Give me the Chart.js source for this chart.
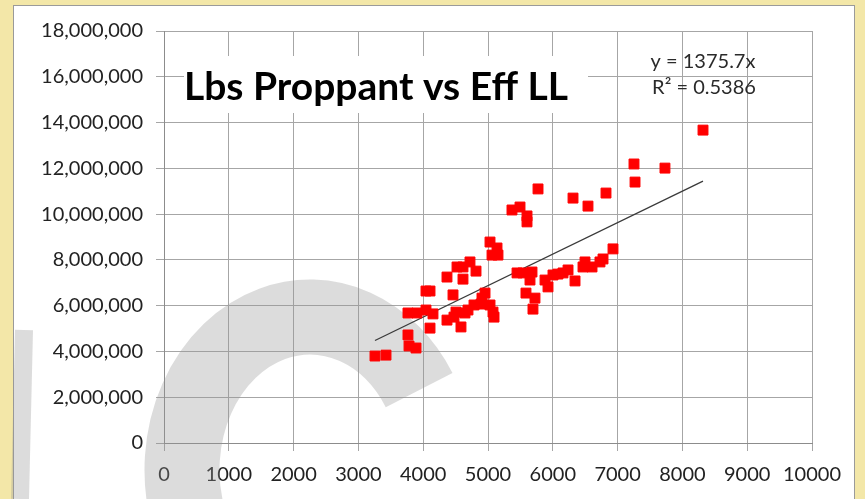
<!DOCTYPE html>
<html>
<head>
<meta charset="utf-8">
<title>Lbs Proppant vs Eff LL</title>
<script src="https://cdn.jsdelivr.net/npm/chart.js@4.4.0/dist/chart.umd.min.js"></script>
<style>
  html, body { margin: 0; padding: 0; background: #f3e7a8; }
  #wrap { width: 865px; height: 499px; position: relative; }
</style>
</head>
<body>
<div id="wrap"><canvas id="myChart" width="865" height="499"></canvas></div>
<script>
// data
const effLL = [3256, 3426, 3765, 3781, 3889, 3765, 3904, 4043, 4151, 4043, 4105, 4105,
  4367, 4522, 4614, 4722, 4815, 4614, 4460, 4367, 4475, 4583, 4506, 4645, 4691, 4784,
  4892, 4954, 4907, 5031, 5077, 5093, 5031, 5139, 5062, 5154, 5448, 5540, 5679, 5648,
  5586, 5725, 5694, 5880, 5926, 6003, 6080, 6157, 6235, 6343, 6466, 6497, 6605, 6728,
  6775, 6929, 5370, 5494, 5602, 5602, 5772, 6312, 6543, 6821, 7253, 7269, 7731, 8318];
const lbsProppant = [3800000, 3840000, 4720000, 4240000, 4150000, 5680000, 5680000, 5810000,
  5640000, 6640000, 5020000, 6640000, 7250000, 7690000, 7690000, 7910000, 7510000, 7160000,
  6470000, 5370000, 5500000, 5070000, 5720000, 5680000, 5810000, 6030000, 6070000, 6550000,
  6330000, 6030000, 5720000, 5500000, 8780000, 8520000, 8210000, 8210000, 7430000, 7430000,
  7470000, 7120000, 6550000, 6330000, 5850000, 7120000, 6820000, 7340000, 7380000, 7430000,
  7560000, 7080000, 7690000, 7910000, 7690000, 7910000, 8040000, 8480000, 10180000, 10310000,
  9920000, 9660000, 11100000, 10700000, 10350000, 10920000, 12190000, 11400000, 12010000, 13670000];
const slope = 1375.7;
const equationText = ["y = 1375.7x", "R\u00b2 = 0.5386"];
const titleText = "Lbs Proppant vs Eff LL";
const xTicks = [0, 1000, 2000, 3000, 4000, 5000, 6000, 7000, 8000, 9000, 10000];
const yTicks = [0, 2000000, 4000000, 6000000, 8000000, 10000000, 12000000, 14000000, 16000000, 18000000];

const points = effLL.map((x, i) => ({ x: x, y: lbsProppant[i] }));
const xMin = Math.min(...effLL), xMax = Math.max(...effLL);
const trend = [{ x: xMin, y: slope * xMin }, { x: xMax, y: slope * xMax }];

// yellow frame, white chart box
const background = {
  id: 'background',
  beforeDraw(chart) {
    const c = chart.ctx;
    c.save();
    c.fillStyle = '#f3e7a8';
    c.fillRect(0, 0, chart.width, chart.height);
    c.fillStyle = '#ffffff';
    c.fillRect(13, 5, 842, 494);
    c.strokeStyle = '#9a9a9a';
    c.lineWidth = 1;
    c.strokeRect(13.5, 5.5, 841, 500);
    c.restore();
  }
};

// title box + grey watermark arc
const overlay = {
  id: 'overlay',
  beforeDatasetsDraw(chart) {
    const c = chart.ctx;
    c.save();
    c.fillStyle = '#ffffff';
    c.fillRect(184, 56, 404, 57);
    c.fillStyle = '#000000';
    c.font = 'bold 39px Lato';
    c.textAlign = 'center';
    c.textBaseline = 'middle';
    c.fillText(titleText, 376, 87);

    c.fillStyle = '#2a2a2a';
    c.font = '20px Lato';
    c.fillText(equationText[0], 703, 62);
    c.fillText(equationText[1], 704, 88);

    // watermark
    c.strokeStyle = 'rgba(150,150,150,0.33)';
    c.lineWidth = 75;
    c.beginPath();
    c.ellipse(310, 470, 128, 153, 0, Math.PI - 0.3, Math.PI * 2 - 0.55);
    c.stroke();
    c.lineWidth = 18;
    c.beginPath();
    c.moveTo(24, 330);
    c.lineTo(20, 499);
    c.stroke();
    c.restore();
  }
};

const ctx = document.getElementById('myChart');

new Chart(ctx, {
  type: 'scatter',
  data: {
    datasets: [{
      label: 'Lbs Proppant',
      data: points,
      backgroundColor: '#ff0000',
      borderColor: '#ff0000',
      pointStyle: 'rect',
      pointRadius: 7,
      pointHoverRadius: 7,
      order: 1
    }, {
      label: 'Trend',
      type: 'line',
      data: trend,
      borderColor: '#3a3a3a',
      borderWidth: 1.3,
      pointRadius: 0,
      fill: false,
      order: 2
    }]
  },
  options: {
    responsive: false,
    animation: false,
    layout: { padding: { left: 13, right: 53, top: 31, bottom: 16 } },
    plugins: {
      legend: { display: false },
      tooltip: { enabled: false }
    },
    scales: {
      x: {
        type: 'linear',
        min: 0,
        max: 10000,
        afterBuildTicks: (s) => { s.ticks = xTicks.map(v => ({ value: v })); },
        afterFit: (s) => { s.height = 40; },
        grid: { color: '#a6a6a6', tickLength: 8, tickColor: '#a6a6a6' },
        border: { color: '#8c8c8c' },
        ticks: {
          color: '#222222',
          font: { family: 'Lato', size: 20 },
          padding: 12,
          maxRotation: 0,
          autoSkip: false,
          callback: (v) => String(v)
        }
      },
      y: {
        type: 'linear',
        min: 0,
        max: 18000000,
        afterBuildTicks: (s) => { s.ticks = yTicks.map(v => ({ value: v })); },
        afterFit: (s) => { s.width = 151; },
        grid: { color: '#a6a6a6', tickLength: 8, tickColor: '#a6a6a6' },
        border: { color: '#8c8c8c' },
        ticks: {
          color: '#222222',
          font: { family: 'Lato', size: 20 },
          padding: 13,
          autoSkip: false,
          callback: (v) => v.toLocaleString('en-US')
        }
      }
    }
  },
  plugins: [background, overlay]
});
</script>
</body>
</html>
